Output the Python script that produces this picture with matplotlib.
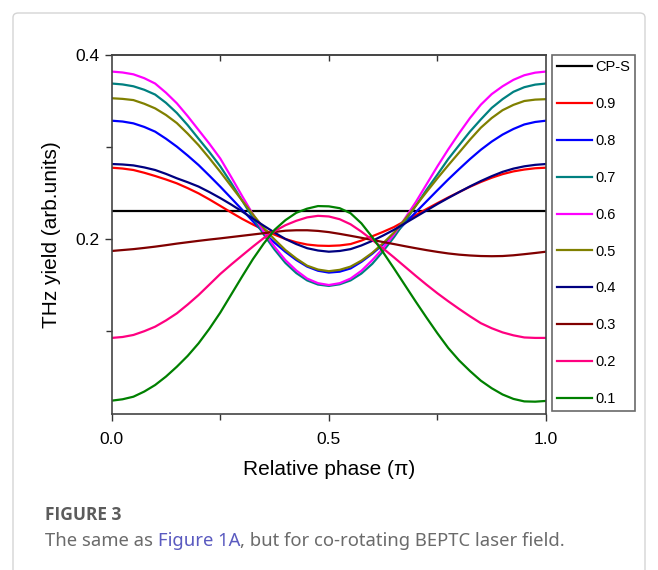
import matplotlib
matplotlib.use("Agg")
import matplotlib.pyplot as plt
from matplotlib.patches import FancyBboxPatch
from matplotlib.ticker import FixedLocator

plt.rcParams['font.family'] = ['Liberation Sans', 'DejaVu Sans']

# ---------------- data ----------------
phase = [0.000, 0.025, 0.050, 0.075, 0.100, 0.125, 0.150, 0.175, 0.200, 0.225,
         0.250, 0.275, 0.300, 0.325, 0.350, 0.375, 0.400, 0.425, 0.450, 0.475,
         0.500, 0.525, 0.550, 0.575, 0.600, 0.625, 0.650, 0.675, 0.700, 0.725,
         0.750, 0.775, 0.800, 0.825, 0.850, 0.875, 0.900, 0.925, 0.950, 0.975, 1.000]

cps_phase = [0.0, 1.0]
cps = [0.2308, 0.2308]

y09 = [0.2775, 0.2766, 0.2750, 0.2720, 0.2685, 0.2647, 0.2605, 0.2553, 0.2496, 0.2430,
       0.2360, 0.2289, 0.2220, 0.2158, 0.2100, 0.2047, 0.2000, 0.1965, 0.1940, 0.1928,
       0.1925, 0.1930, 0.1945, 0.1983, 0.2030, 0.2078, 0.2130, 0.2195, 0.2260, 0.2326,
       0.2390, 0.2452, 0.2510, 0.2568, 0.2620, 0.2666, 0.2705, 0.2735, 0.2755, 0.2769, 0.2775]
y08 = [0.3286, 0.3277, 0.3257, 0.3218, 0.3167, 0.3090, 0.3004, 0.2907, 0.2804, 0.2688,
       0.2569, 0.2445, 0.2320, 0.2193, 0.2070, 0.1960, 0.1860, 0.1772, 0.1700, 0.1655,
       0.1635, 0.1645, 0.1680, 0.1752, 0.1840, 0.1942, 0.2050, 0.2170, 0.2290, 0.2410,
       0.2530, 0.2648, 0.2760, 0.2869, 0.2970, 0.3059, 0.3135, 0.3196, 0.3245, 0.3272, 0.3286]
y07 = [0.3690, 0.3680, 0.3660, 0.3622, 0.3570, 0.3480, 0.3370, 0.3237, 0.3090, 0.2945,
       0.2790, 0.2610, 0.2420, 0.2232, 0.2050, 0.1885, 0.1740, 0.1630, 0.1550, 0.1505,
       0.1490, 0.1508, 0.1550, 0.1625, 0.1730, 0.1868, 0.2020, 0.2188, 0.2360, 0.2535,
       0.2700, 0.2870, 0.3020, 0.3168, 0.3300, 0.3425, 0.3520, 0.3600, 0.3650, 0.3678, 0.3690]
y06 = [0.3820, 0.3810, 0.3790, 0.3748, 0.3690, 0.3590, 0.3475, 0.3335, 0.3185, 0.3035,
       0.2875, 0.2675, 0.2470, 0.2270, 0.2080, 0.1915, 0.1770, 0.1658, 0.1570, 0.1520,
       0.1500, 0.1520, 0.1570, 0.1655, 0.1770, 0.1900, 0.2050, 0.2222, 0.2400, 0.2595,
       0.2790, 0.2975, 0.3150, 0.3315, 0.3460, 0.3575, 0.3660, 0.3730, 0.3780, 0.3808, 0.3820]
y05 = [0.3530, 0.3523, 0.3510, 0.3470, 0.3420, 0.3348, 0.3260, 0.3145, 0.3020, 0.2878,
       0.2730, 0.2575, 0.2420, 0.2268, 0.2120, 0.1995, 0.1880, 0.1788, 0.1710, 0.1668,
       0.1650, 0.1665, 0.1700, 0.1765, 0.1850, 0.1955, 0.2070, 0.2212, 0.2360, 0.2512,
       0.2660, 0.2802, 0.2940, 0.3080, 0.3210, 0.3315, 0.3400, 0.3458, 0.3500, 0.3515, 0.3520]
y04 = [0.2815, 0.2810, 0.2800, 0.2778, 0.2750, 0.2708, 0.2660, 0.2617, 0.2570, 0.2510,
       0.2445, 0.2375, 0.2300, 0.2222, 0.2145, 0.2070, 0.2000, 0.1945, 0.1900, 0.1875,
       0.1862, 0.1870, 0.1890, 0.1930, 0.1980, 0.2038, 0.2100, 0.2170, 0.2240, 0.2310,
       0.2380, 0.2446, 0.2510, 0.2572, 0.2630, 0.2683, 0.2730, 0.2765, 0.2790, 0.2806, 0.2815]
y03 = [0.1870, 0.1880, 0.1890, 0.1903, 0.1917, 0.1933, 0.1950, 0.1965, 0.1980, 0.1994,
       0.2007, 0.2021, 0.2035, 0.2049, 0.2063, 0.2077, 0.2090, 0.2095, 0.2095, 0.2088,
       0.2075, 0.2056, 0.2035, 0.2013, 0.1990, 0.1967, 0.1945, 0.1922, 0.1900, 0.1879,
       0.1860, 0.1843, 0.1830, 0.1821, 0.1815, 0.1813, 0.1815, 0.1823, 0.1835, 0.1848, 0.1862]
y02 = [0.0925, 0.0935, 0.0957, 0.0998, 0.1047, 0.1115, 0.1192, 0.1288, 0.1391, 0.1505,
       0.1620, 0.1722, 0.1820, 0.1917, 0.2010, 0.2085, 0.2150, 0.2198, 0.2235, 0.2252,
       0.2245, 0.2215, 0.2160, 0.2080, 0.1990, 0.1897, 0.1800, 0.1700, 0.1600, 0.1503,
       0.1410, 0.1323, 0.1240, 0.1160, 0.1085, 0.1030, 0.0985, 0.0953, 0.0930, 0.0925, 0.0925]
y01 = [0.0243, 0.0258, 0.0286, 0.0342, 0.0413, 0.0505, 0.0612, 0.0730, 0.0866, 0.1025,
       0.1200, 0.1395, 0.1590, 0.1780, 0.1950, 0.2100, 0.2205, 0.2285, 0.2330, 0.2358,
       0.2355, 0.2335, 0.2280, 0.2170, 0.2020, 0.1855, 0.1680, 0.1500, 0.1320, 0.1145,
       0.0975, 0.0815, 0.0680, 0.0565, 0.0460, 0.0378, 0.0310, 0.0262, 0.0235, 0.0232, 0.0240]

labels = ["CP-S", "0.9", "0.8", "0.7", "0.6", "0.5", "0.4", "0.3", "0.2", "0.1"]
series = [cps, y09, y08, y07, y06, y05, y04, y03, y02, y01]
colors = ["#000000", "#FF0000", "#0000FF", "#008080", "#FF00FF",
          "#808000", "#000080", "#800000", "#FF0080", "#008000"]

xticks = [0.0, 0.5, 1.0]
xticklabels = ["0.0", "0.5", "1.0"]
yticks = [0.2, 0.4]
yticklabels = ["0.2", "0.4"]

# ---------------- figure ----------------
W, H = 658, 570
fig = plt.figure(figsize=(W / 100, H / 100), dpi=100)
fig.patch.set_facecolor("white")

# card border
card = FancyBboxPatch((13 / W, -0.05), (645 - 13) / W, 1.05 - 13 / H,
                      boxstyle="round,pad=0,rounding_size=0.008",
                      transform=fig.transFigure, facecolor="none",
                      edgecolor="#d4d4d4", linewidth=1.0, zorder=0)
fig.patches.append(card)

ax = fig.add_axes([111.7 / W, 1 - 414 / H, (546 - 111.7) / W, (414 - 55) / H])
for ys, lab, c in zip(series, labels, colors):
    xs = cps_phase if ys is cps else phase
    ax.plot(xs, ys, color=c, lw=1.6, label=lab)

ax.set_xlim(0, 1)
ax.set_ylim(0.0098, 0.4)
ax.set_xticks(xticks)
ax.set_xticklabels(xticklabels)
ax.xaxis.set_minor_locator(FixedLocator([0.25, 0.75]))
ax.set_yticks(yticks)
ax.set_yticklabels(yticklabels)
ax.yaxis.set_minor_locator(FixedLocator([0.1, 0.3]))
ax.tick_params(which='both', direction='out', top=False, right=False,
               colors="#333333", labelcolor="black", width=1.0)
ax.tick_params(which='major', length=5, labelsize=12.5)
ax.tick_params(which='minor', length=4)
ax.tick_params(axis='x', which='major', pad=8)
ax.tick_params(axis='y', which='major', pad=4)
for s in ax.spines.values():
    s.set_color("#444444")
    s.set_linewidth(1.2)

sec = ax.secondary_xaxis('top')
sec.set_xticks([0.25, 0.5, 0.75])
sec.tick_params(direction='in', length=4, labeltop=False, colors="#333333", width=1.0)
sec.spines['top'].set_color("#444444")
sec.spines['top'].set_linewidth(1.2)

ax.set_xlabel("Relative phase (\u03c0)", fontsize=15, labelpad=9)
ax.set_ylabel("THz yield (arb.units)", fontsize=15, labelpad=10)

leg = ax.legend(loc='upper left', bbox_to_anchor=(1.0138, 1.0), borderaxespad=0,
                fontsize=10.5, frameon=True, fancybox=False, handlelength=2.4,
                handletextpad=0.2, labelspacing=1.57, borderpad=0.35)
leg.get_frame().set_edgecolor("#444444")
leg.get_frame().set_linewidth(1.2)

# ---------------- caption ----------------
fig.text(45 / W, 1 - 515 / H, "FIGURE 3", fontsize=12.5, fontweight='bold',
         color="#5c5c5c", family=['Open Sans', 'Noto Sans', 'DejaVu Sans'],
         va='center', ha='left')

parts = [("The same as ", "#6b6b6b"), ("Figure 1A", "#5a5ac0"),
         (", but for co-rotating BEPTC laser field.", "#6b6b6b")]
renderer = fig.canvas.get_renderer()
xpos = 45 / W
for txt, col in parts:
    t = fig.text(xpos, 1 - 541 / H, txt, fontsize=13.3, color=col,
                 family=['Noto Sans', 'DejaVu Sans'], va='center', ha='left')
    bb = t.get_window_extent(renderer=renderer)
    xpos = bb.x1 / W

fig.savefig("out.png", dpi=100)
